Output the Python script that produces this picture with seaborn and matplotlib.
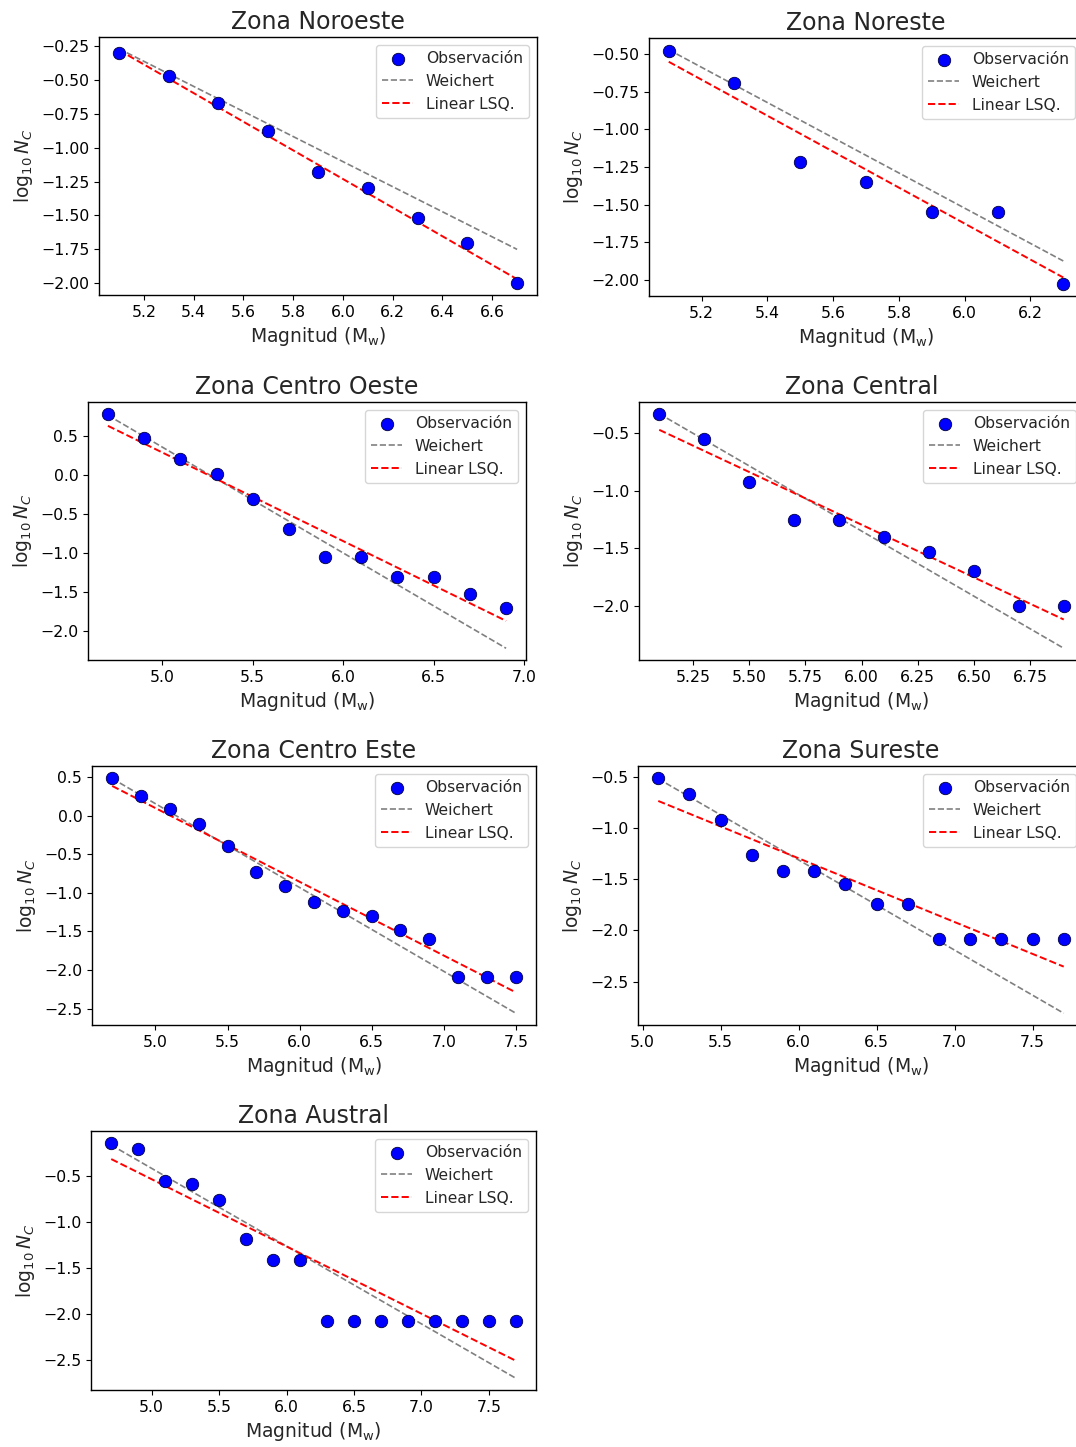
import numpy as np
import pandas as pd
import matplotlib
matplotlib.use("Agg")
import matplotlib.pyplot as plt
import seaborn as sns

zonas = ["Zona Noroeste", "Zona Noreste", "Zona Centro Oeste", "Zona Central",
         "Zona Centro Este", "Zona Sureste", "Zona Austral"]

mag_noroeste = [5.1, 5.3, 5.5, 5.7, 5.9, 6.1, 6.3, 6.5, 6.7]
obs_noroeste = [-0.30, -0.47, -0.67, -0.88, -1.18, -1.30, -1.52, -1.70, -2.00]
weichert_noroeste = [-0.27, -1.75]
lsq_noroeste = [-0.28, -1.97]

mag_noreste = [5.1, 5.3, 5.5, 5.7, 5.9, 6.1, 6.3]
obs_noreste = [-0.476, -0.69, -1.22, -1.35, -1.55, -1.55, -2.03]
weichert_noreste = [-0.47, -1.875]
lsq_noreste = [-0.55, -1.985]

mag_centro_oeste = [4.7, 4.9, 5.1, 5.3, 5.5, 5.7, 5.9, 6.1, 6.3, 6.5, 6.7, 6.9]
obs_centro_oeste = [0.78, 0.466, 0.20, 0.005, -0.31, -0.70, -1.05, -1.05, -1.31, -1.31, -1.53, -1.71]
weichert_centro_oeste = [0.76, -2.22]
lsq_centro_oeste = [0.625, -1.87]

mag_central = [5.1, 5.3, 5.5, 5.7, 5.9, 6.1, 6.3, 6.5, 6.7, 6.9]
obs_central = [-0.33, -0.55, -0.92, -1.25, -1.25, -1.40, -1.53, -1.70, -2.00, -2.00]
weichert_central = [-0.33, -2.37]
lsq_central = [-0.47, -2.12]

mag_centro_este = [4.7, 4.9, 5.1, 5.3, 5.5, 5.7, 5.9, 6.1, 6.3, 6.5, 6.7, 6.9, 7.1, 7.3, 7.5]
obs_centro_este = [0.49, 0.255, 0.08, -0.115, -0.40, -0.73, -0.91, -1.12, -1.24, -1.305,
                   -1.477, -1.60, -2.087, -2.087, -2.087]
weichert_centro_este = [0.48, -2.56]
lsq_centro_este = [0.384, -2.29]

mag_sureste = [5.1, 5.3, 5.5, 5.7, 5.9, 6.1, 6.3, 6.5, 6.7, 6.9, 7.1, 7.3, 7.5, 7.7]
obs_sureste = [-0.506, -0.665, -0.918, -1.265, -1.414, -1.414, -1.55, -1.738, -1.738,
               -2.079, -2.079, -2.079, -2.079, -2.079]
weichert_sureste = [-0.516, -2.81]
lsq_sureste = [-0.733, -2.354]

mag_austral = [4.7, 4.9, 5.1, 5.3, 5.5, 5.7, 5.9, 6.1, 6.3, 6.5, 6.7, 6.9, 7.1, 7.3, 7.5, 7.7]
obs_austral = [-0.143, -0.212, -0.554, -0.594, -0.763, -1.185, -1.415, -1.415,
               -2.078, -2.078, -2.078, -2.078, -2.078, -2.078, -2.078, -2.078]
weichert_austral = [-0.168, -2.70]
lsq_austral = [-0.32, -2.51]

magnitudes = [mag_noroeste, mag_noreste, mag_centro_oeste, mag_central,
              mag_centro_este, mag_sureste, mag_austral]
observaciones = [obs_noroeste, obs_noreste, obs_centro_oeste, obs_central,
                 obs_centro_este, obs_sureste, obs_austral]
weichert = [weichert_noroeste, weichert_noreste, weichert_centro_oeste, weichert_central,
            weichert_centro_este, weichert_sureste, weichert_austral]
lsq = [lsq_noroeste, lsq_noreste, lsq_centro_oeste, lsq_central,
       lsq_centro_este, lsq_sureste, lsq_austral]

# Posicion de cada panel en pixeles (izq, arriba, der, abajo)
W, H = 1076, 1447
paneles = [(99, 37, 537, 295), (649, 38, 1083, 296),
           (88, 402, 526, 660), (639, 402, 1084, 660),
           (92, 766, 536, 1025), (638, 766, 1084, 1025),
           (91, 1131, 536, 1390)]

sns.set_style("ticks")
plt.rcParams['font.family'] = ['DejaVu Sans']
plt.rcParams['mathtext.fontset'] = 'dejavusans'

fig = plt.figure(figsize=(W / 100, H / 100), dpi=100)

for i, zona in enumerate(zonas):
    l, t, r, b = paneles[i]
    ax = fig.add_axes([l / W, 1 - b / H, (r - l) / W, (b - t) / H])
    for s in ax.spines.values():
        s.set_color('black')
        s.set_linewidth(1.0)

    df = pd.DataFrame({'M': magnitudes[i], 'logN': observaciones[i]})
    extremos = [magnitudes[i][0], magnitudes[i][-1]]

    sns.scatterplot(data=df, x='M', y='logN', ax=ax, color='blue', edgecolor='#000040',
                    linewidth=0.6, s=80, label='Observación', zorder=3)
    sns.lineplot(x=extremos, y=weichert[i], ax=ax, color='gray', linestyle='--',
                 linewidth=1.2, label='Weichert', zorder=2)
    sns.lineplot(x=extremos, y=lsq[i], ax=ax, color='red', linestyle='--',
                 linewidth=1.4, label='Linear LSQ.', zorder=2)

    ax.set_title(zona, fontsize=17)
    ax.set_xlabel(r'Magnitud (M$_\mathrm{w}$)', fontsize=13.5)
    ax.set_ylabel(r'$\log_{10} N_C$', fontsize=13.5)
    ax.tick_params(labelsize=11.3, color='black', labelcolor='black')
    ax.legend(loc='upper right', fontsize=11.2)

fig.savefig('out.png', dpi=100)
